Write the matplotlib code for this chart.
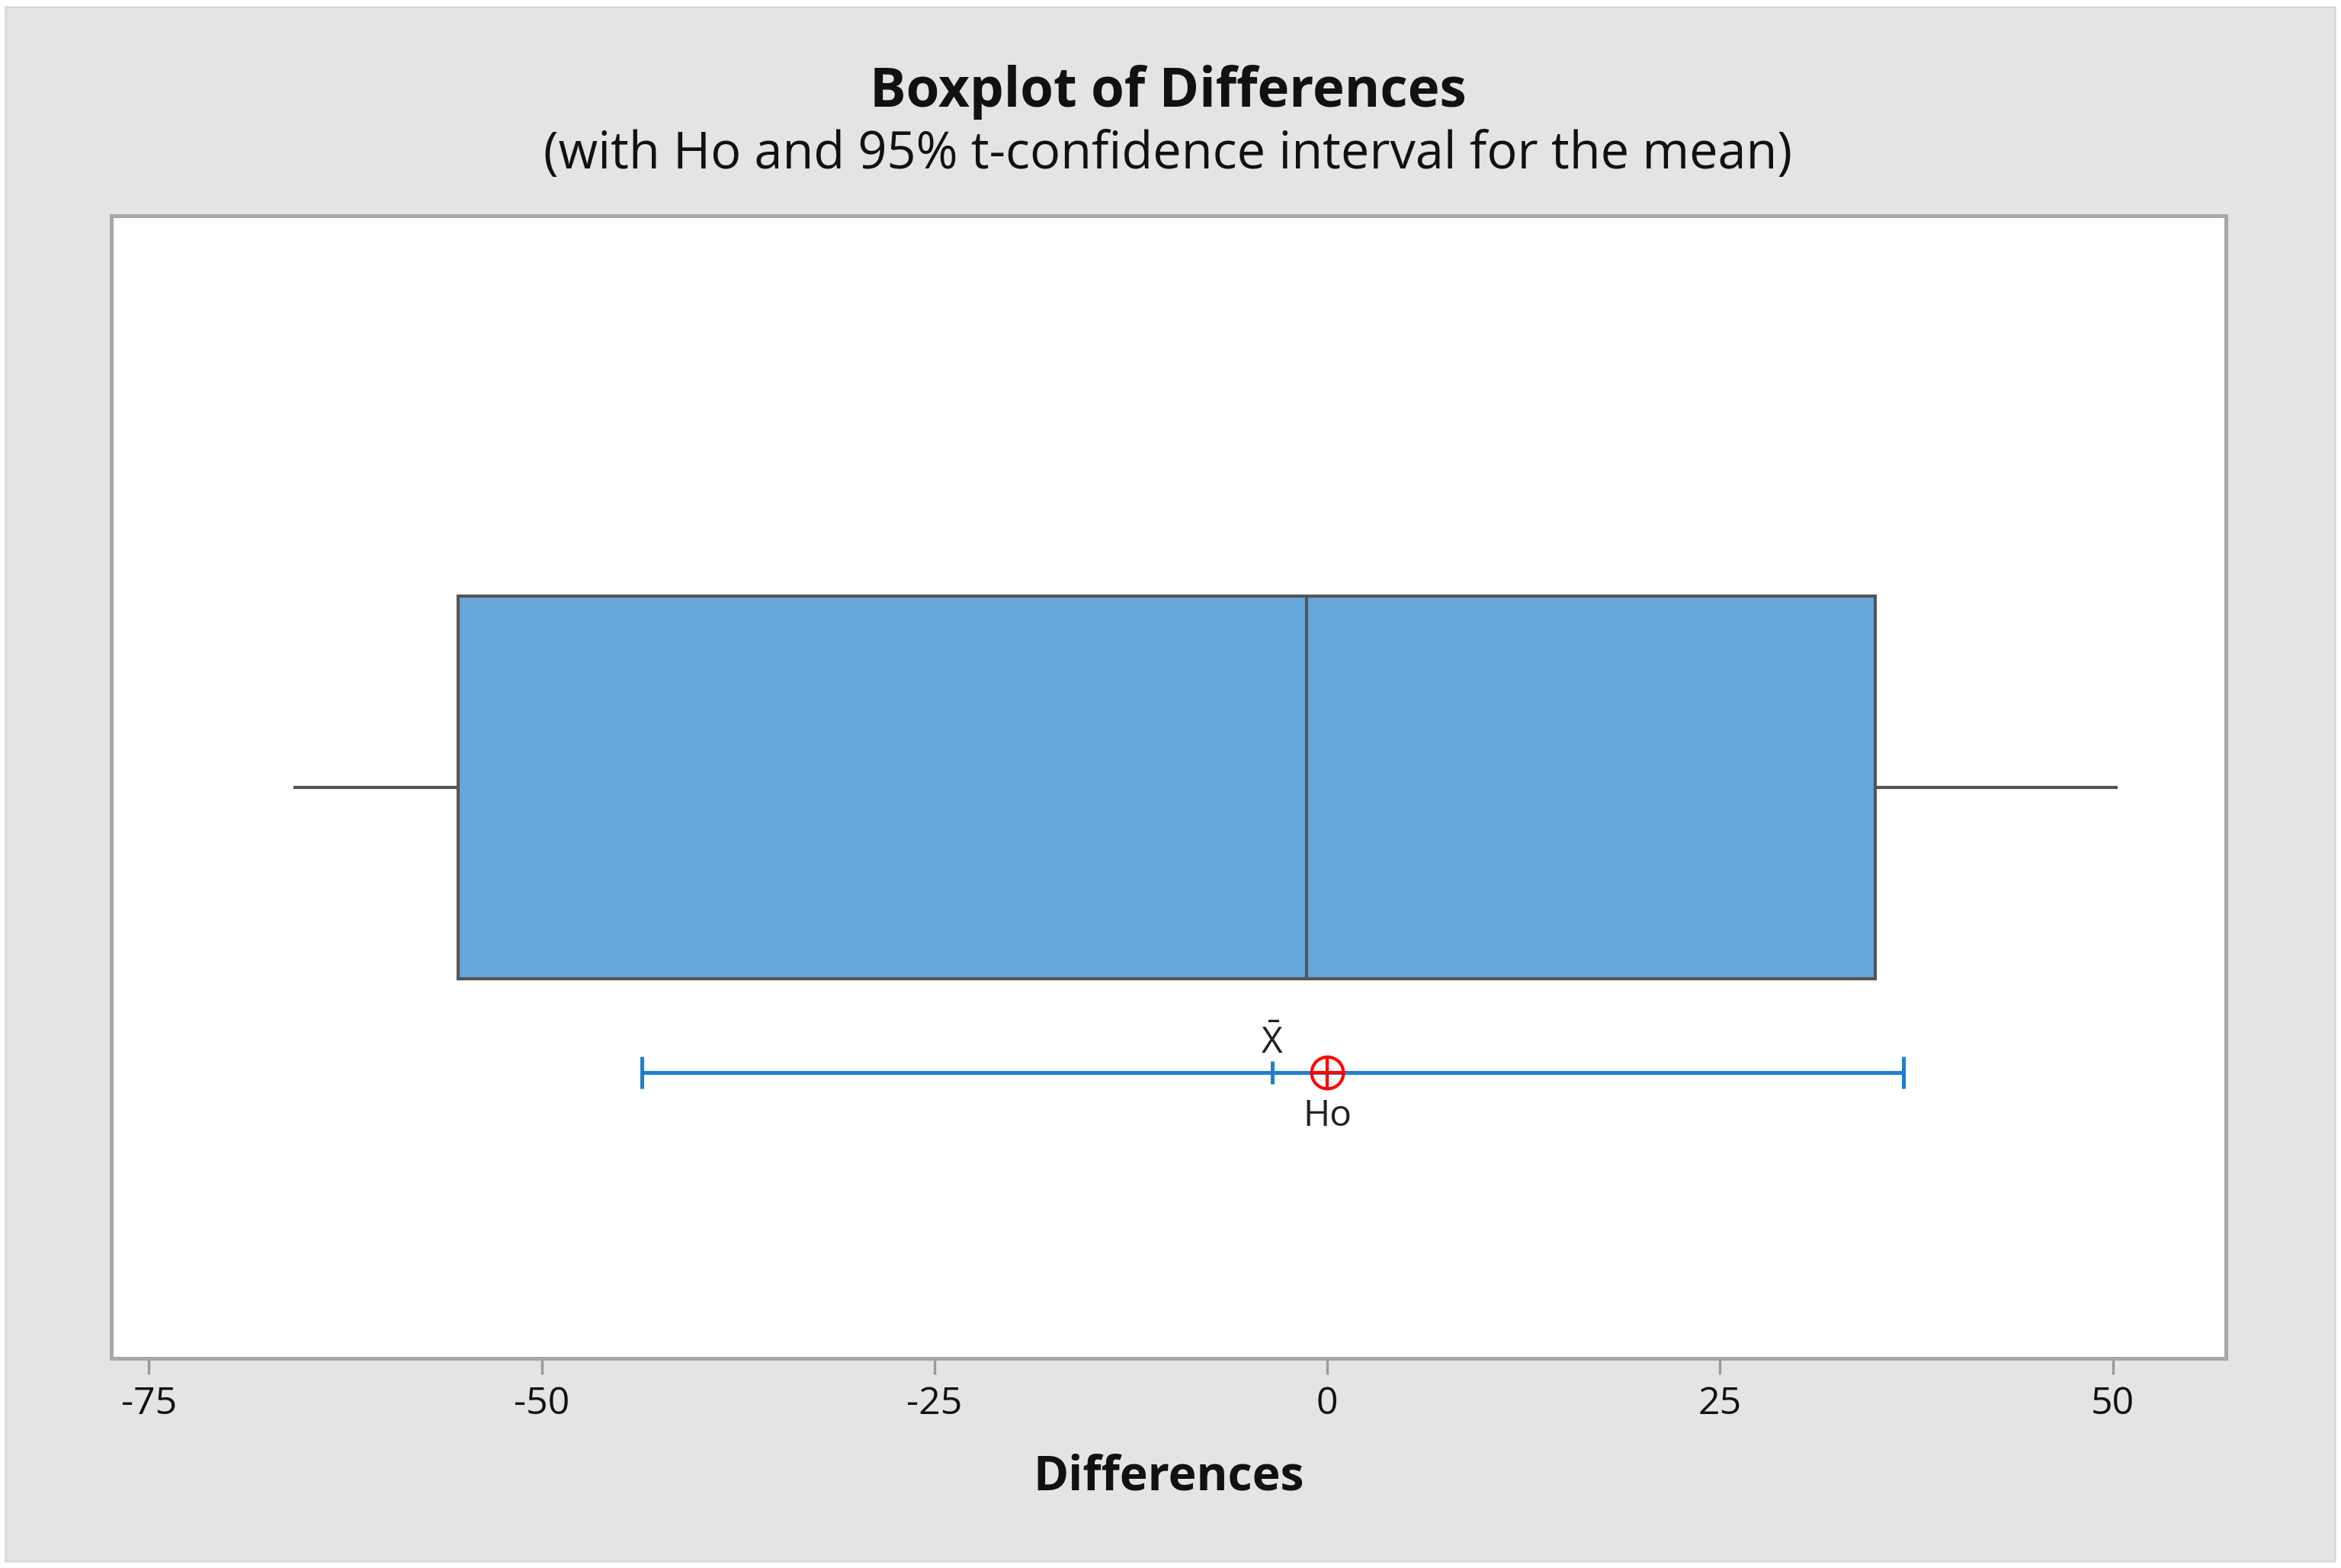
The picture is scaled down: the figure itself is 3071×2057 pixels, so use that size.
import matplotlib
matplotlib.use("Agg")
import matplotlib.pyplot as plt
from matplotlib.patches import Rectangle

# ---------- Data ----------
whisker_lo = -65.7
q1 = -55.3
median_val = -1.3
q3 = 34.9
whisker_hi = 50.2

ci_lo = -43.6
ci_hi = 36.7
mean_val = -3.5
h0_val = 0.0

x_ticks = [-75, -50, -25, 0, 25, 50]
x_limits = (-77.4, 57.2)

title = "Boxplot of Differences"
subtitle = "(with Ho and 95% t-confidence interval for the mean)"
x_label = "Differences"

# ---------- Style ----------
FONT = ["Open Sans", "DejaVu Sans"]
plt.rcParams["font.family"] = FONT
plt.rcParams["mathtext.fontset"] = "custom"
plt.rcParams["mathtext.rm"] = "Open Sans"
plt.rcParams["mathtext.it"] = "Open Sans"

BG_GRAY = "#e4e4e4"
BOX_FILL = "#67a8dc"
BOX_EDGE = "#555555"
CI_BLUE = "#1f7fcc"
FRAME = "#a8a8a8"

fig = plt.figure(figsize=(3071 / 300, 2057 / 300), dpi=300, facecolor="white")

# gray panel behind everything
fig.patches.append(Rectangle((0.0023, 0.0044), 0.9951, 0.9912, transform=fig.transFigure,
                             facecolor=BG_GRAY, edgecolor="#d8d8d8", linewidth=0.6, zorder=-10))

ax = fig.add_axes([0.0475, 0.1337, 0.9033, 0.7287])
ax.set_zorder(1)
ax.set_facecolor("white")
ax.set_xlim(*x_limits)
ax.set_ylim(0, 1)

# boxplot
box_y, box_h = 0.4995, 0.335
ax.bxp([{"whislo": whisker_lo, "q1": q1, "med": median_val, "q3": q3,
         "whishi": whisker_hi, "fliers": []}],
       positions=[box_y], widths=[box_h], vert=False, patch_artist=True,
       showcaps=False, manage_ticks=False,
       boxprops=dict(facecolor=BOX_FILL, edgecolor=BOX_EDGE, linewidth=1.0),
       medianprops=dict(color=BOX_EDGE, linewidth=1.0),
       whiskerprops=dict(color=BOX_EDGE, linewidth=1.0))

# confidence interval
ci_y = 0.25
ax.plot([ci_lo, ci_hi], [ci_y, ci_y], color=CI_BLUE, linewidth=1.2, solid_capstyle="butt")
ax.plot([ci_lo, ci_hi], [ci_y, ci_y], linestyle="none", marker="|", markersize=10,
        markeredgewidth=1.2, color=CI_BLUE)
ax.plot([mean_val], [ci_y], linestyle="none", marker="|", markersize=7,
        markeredgewidth=1.2, color=CI_BLUE)

# Ho marker (circle with cross)
ax.plot([h0_val], [ci_y], linestyle="none", marker="o", markersize=10,
        markerfacecolor="none", markeredgecolor="red", markeredgewidth=1.0, zorder=5)
ax.plot([h0_val], [ci_y], linestyle="none", marker="+", markersize=10,
        markeredgecolor="red", markeredgewidth=1.0, zorder=5)

ax.annotate(r"$\bar{\mathrm{X}}$", xy=(mean_val, ci_y), xytext=(0, 3.5),
            textcoords="offset points", ha="center", va="bottom",
            fontsize=11.5, color="#222222")
ax.annotate("Ho", xy=(h0_val, ci_y), xytext=(0, -8),
            textcoords="offset points", ha="center", va="top",
            fontsize=11.5, color="#222222")

# axes styling
for side in ["top", "bottom", "left", "right"]:
    ax.spines[side].set_color(FRAME)
    ax.spines[side].set_linewidth(1.2)
ax.set_xticks(x_ticks)
ax.set_xticklabels([str(t) for t in x_ticks])
ax.set_yticks([])
ax.tick_params(axis="x", direction="out", length=5, width=0.8, color="#999999",
               labelsize=12, labelcolor="#111111", pad=3.5)
ax.set_xlabel(x_label, fontsize=15, fontweight="bold", color="#111111", labelpad=9.5)

fig.text(0.499, 0.941, title, ha="center", va="center", fontsize=17,
         fontweight="bold", color="#111111")
fig.text(0.499, 0.901, subtitle, ha="center", va="center", fontsize=16,
         color="#111111")

fig.savefig("out.png", dpi=300, facecolor="white")
plt.close(fig)
